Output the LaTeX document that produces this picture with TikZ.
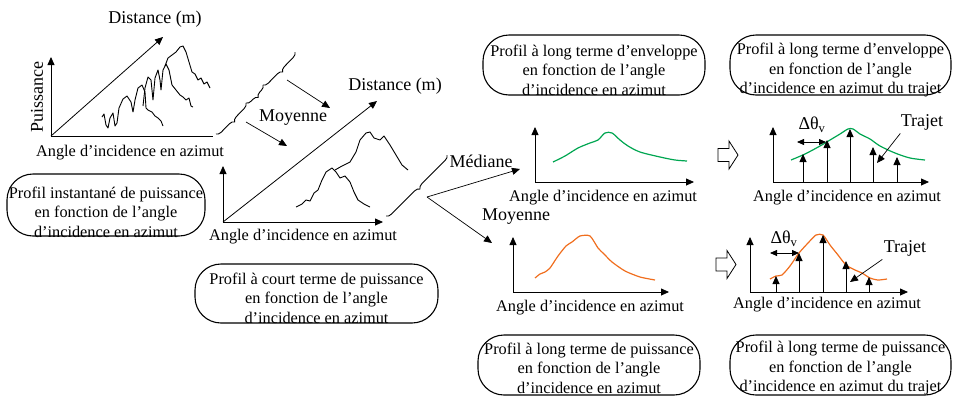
\documentclass[tikz,border=0pt]{standalone}
\usepackage{fontspec}
\setmainfont{Liberation Serif}
\usetikzlibrary{arrows.meta,positioning,decorations.pathreplacing}
\definecolor{envgreen}{RGB}{0,166,81}
\definecolor{puisorange}{RGB}{240,110,30}

\begin{document}
\begin{tikzpicture}[x=1pt, y=-1pt,
				font=\fontsize{16.3}{19.5}\selectfont,
				box/.style = {draw, line width=1.1pt, rounded corners=26pt, inner sep=0pt},
				boxtext/.style = {align=center, inner sep=0pt},
				biglab/.style = {font=\fontsize{18}{20}\selectfont},
				axis/.style = {-{Triangle[length=8pt,width=7pt]}, line width=0.8pt},
				line/.style = {-{Triangle[length=8pt,width=7pt]}, line width=0.7pt},
				twoway/.style = {{Triangle[length=7pt,width=6pt]}-{Triangle[length=7pt,width=6pt]}, line width=0.8pt},
				curly/.style = {decorate, decoration={brace, amplitude=5pt, mirror}, line width=0.9pt},
				trace/.style = {line width=0.9pt, line join=round},
				hollow/.style = {draw, line width=0.8pt, fill=white}
				]
				
				\useasboundingbox (0,0) rectangle (953,397);
				
				\node[box, minimum width=198pt, minimum height=62pt] (inst) at (106,205) {};
				\node[boxtext] (insttext) at (106,212) {Profil instantané de puissance\\en fonction de l'angle\\d'incidence en azimut};
				\node[box, minimum width=243pt, minimum height=59pt] (court) at (316.5,293.5) {};
				\node[boxtext] (courttext) at (316.5,298) {Profil à court terme de puissance\\en fonction de l'angle\\d'incidence en azimut};
				\node[box, minimum width=222pt, minimum height=60pt] (env) at (594,65) {};
				\node[boxtext] (envtext) at (594,70) {Profil à long terme d'enveloppe\\en fonction de l'angle\\d'incidence en azimut};
				\node[box, minimum width=221pt, minimum height=60pt] (envtraj) at (840.5,65) {};
				\node[boxtext] (envtrajtext) at (840.5,70) {Profil à long terme d'enveloppe\\en fonction de l'angle\\d'incidence en azimut du trajet};
				\node[box, minimum width=222pt, minimum height=60pt] (puis) at (589,365) {};
				\node[boxtext] (puistext) at (589,368) {Profil à long terme de puissance\\en fonction de l'angle\\d'incidence en azimut};
				\node[box, minimum width=221pt, minimum height=60pt] (puistraj) at (840.5,365) {};
				\node[boxtext] (puistrajtext) at (840.5,368) {Profil à long terme de puissance\\en fonction de l'angle\\d'incidence en azimut du trajet};
				
				\coordinate (lo) at (51,136);
				\coordinate (lup) at (51,57);
				\coordinate (lright) at (213,136);
				\coordinate (ldist) at (163,37);
				\draw[axis] (lo) -- (lup);
				\draw[line width=0.8pt] (lo) -- (lright);
				\draw[axis] (lo) -- (ldist);
				\node[biglab] (ldistlab) at (155,19) {Distance (m)};
				\node[biglab, rotate=90] (lpuis) at (37,97) {Puissance};
				\node (lang) at (130,153) {Angle d'incidence en azimut};
				\draw[trace] plot coordinates {(102,117) (104,114) (106,125) (108,128) (110,118) (113,113) (115,126) (117,123) (119,108) (123,99) (127,96) (131,102) (133,112) (135,100) (138,88) (142,85) (145,92) (146,108) (148,110) (152,112) (155,116) (158,118) (161,121) (163,126)};
				\draw[trace] plot coordinates {(143,106) (145,88) (148,77) (151,80) (153,100) (155,78) (158,70) (160,80) (161,90) (163,70) (166,64) (169,70) (172,85) (176,90) (180,95) (183,97) (186,100) (189,98) (191,106) (193,107)};
				\draw[trace] plot coordinates {(165,66) (168,58) (172,55) (176,52) (180,47) (183,46) (186,52) (189,62) (192,72) (195,74) (198,80) (201,78) (204,84) (207,82) (210,88)};
				
				\coordinate (b0) at (216,134);
				\coordinate (b1) at (246,103);
				\coordinate (b2) at (263,85);
				\coordinate (b3) at (295,52);
				\draw[curly] (b0) -- (b1);
				\draw[curly] (b1) -- (b2);
				\draw[curly] (b2) -- (b3);
				\node[biglab] (moy) at (293,118) {Moyenne};
				\coordinate (moyup) at (287,80);
				\coordinate (moyupend) at (330,108);
				\coordinate (moylow) at (246,122);
				\coordinate (moylowend) at (287,146);
				\draw[line] (moyup) -- (moyupend);
				\draw[line] (moylow) -- (moylowend);
				
				\coordinate (mo) at (223,222);
				\coordinate (mup) at (223,166);
				\coordinate (mright) at (383,222);
				\coordinate (mdist) at (377,101);
				\draw[axis] (mo) -- (mup);
				\draw[axis] (mo) -- (mright);
				\draw[axis] (mo) -- (mdist);
				\node[biglab] (mdistlab) at (395,86) {Distance (m)};
				\node (mang) at (303,237) {Angle d'incidence en azimut};
				\draw[trace] plot coordinates {(296,207) (302,204) (306,200) (310,201) (314,193) (318,190) (322,180) (326,172) (332,168) (336,172) (340,178) (345,176) (350,182) (354,192) (358,200) (364,204) (370,207)};
				\draw[trace] plot coordinates {(335,170) (342,166) (350,162) (356,152) (360,140) (366,133) (370,132) (374,138) (380,140) (384,136) (390,145) (396,155) (402,165) (408,170)};
				
				\coordinate (c0) at (386,216);
				\coordinate (c1) at (447,155);
				\draw[curly] (c0) -- (c1);
				\coordinate (fork) at (427,197);
				\node[biglab] (med) at (481,161) {Médiane};
				\node[biglab] (moy2) at (516,217) {Moyenne};
				\coordinate (medend) at (520,169);
				\coordinate (moyend) at (492,243);
				\draw[line] (fork) -- (medend);
				\draw[line] (fork) -- (moyend);
				
				\coordinate (go) at (535,182);
				\coordinate (gup) at (535,127);
				\coordinate (gright) at (694,182);
				\draw[axis] (go) -- (gup);
				\draw[axis] (go) -- (gright);
				\node (gang) at (603,198) {Angle d'incidence en azimut};
				\draw[envgreen, very thick] plot[smooth, tension=0.5] coordinates {(553,162) (565,156) (578,148) (590,143) (598,140) (605,133) (612,133) (620,140) (628,146) (640,152) (660,157) (675,160) (687,161)};
				
				\draw[hollow] (718,148.5) -- (729,148.5) -- (729,141) -- (738,155) -- (729,169) -- (729,161.5) -- (718,161.5) -- cycle;
				
				\coordinate (ro) at (773,182);
				\coordinate (rup) at (773,127);
				\coordinate (rright) at (929,182);
				\draw[axis] (ro) -- (rup);
				\draw[axis] (ro) -- (rright);
				\node (rang) at (847,198) {Angle d'incidence en azimut};
				\draw[envgreen, very thick] plot[smooth, tension=0.5] coordinates {(791,160) (805,154) (820,146) (830,140) (840,134) (848,129) (853,129) (860,134) (870,139) (880,146) (895,153) (910,158) (925,160)};
				\foreach \x/\y in {803/154, 827/140, 850/129, 873/147, 897/157}
				\draw[axis] (\x,182) -- (\x,\y);
				\node[biglab] (dtop) at (812,125) {Δθ\textsubscript{v}};
				\coordinate (dtopl) at (797,142);
				\coordinate (dtopr) at (826,142);
				\draw[twoway] (dtopl) -- (dtopr);
				\node[biglab] (trtop) at (922,122) {Trajet};
				\coordinate (trtopend) at (877,163);
				\draw[line] ([xshift=3pt]trtop.south west) -- (trtopend);
				
				\coordinate (oo) at (513,292);
				\coordinate (oup) at (513,237);
				\coordinate (oright) at (669,292);
				\draw[axis] (oo) -- (oup);
				\draw[axis] (oo) -- (oright);
				\node (oang) at (590,308) {Angle d'incidence en azimut};
				\draw[puisorange, very thick] plot[smooth, tension=0.4] coordinates {(535,278) (540,274) (545,272) (550,268) (558,256) (566,246) (572,242) (580,236) (590,236) (598,248) (604,254) (612,262) (625,271) (640,277) (655,280)};
				
				\draw[hollow] (716,258) -- (727,258) -- (727,250.5) -- (736,264.5) -- (727,278.5) -- (727,271) -- (716,271) -- cycle;
				
				\coordinate (so) at (750,292);
				\coordinate (sup) at (750,237);
				\coordinate (sright) at (908,292);
				\draw[axis] (so) -- (sup);
				\draw[axis] (so) -- (sright);
				\node (sang) at (827,305) {Angle d'incidence en azimut};
				\draw[puisorange, very thick] plot[smooth, tension=0.4] coordinates {(770,279) (776,276) (782,275) (790,266) (799,253) (808,243) (816,235) (823,235) (830,245) (838,255) (846,265) (855,270) (862,273) (870,278) (878,280) (887,279)};
				\foreach \x/\y in {776/276, 799/253, 823/235, 846/261, 869/277}
				\draw[axis] (\x,292) -- (\x,\y);
				\node[biglab] (dbot) at (784,239) {Δθ\textsubscript{v}};
				\coordinate (dbotl) at (770,253);
				\coordinate (dbotr) at (799,253);
				\draw[twoway] (dbotl) -- (dbotr);
				\node[biglab] (trbot) at (905,248) {Trajet};
				\coordinate (trbotend) at (850,282);
				\draw[line] ([xshift=2pt]trbot.south west) -- (trbotend);
			\end{tikzpicture}
\end{document}
